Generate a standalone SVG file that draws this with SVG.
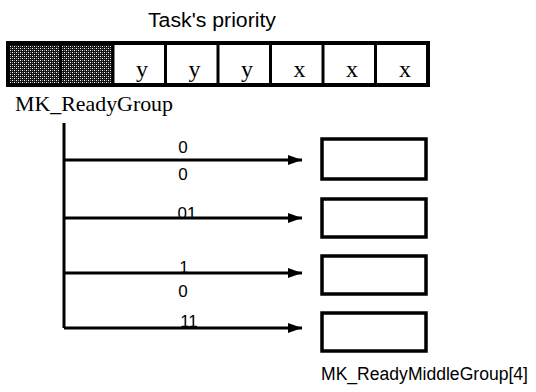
<svg xmlns="http://www.w3.org/2000/svg" width="536" height="392" viewBox="0 0 536 392">
<style>
.sans{font-family:"Liberation Sans",Arial,sans-serif;fill:#000}
.serif{font-family:"Liberation Serif","Times New Roman",serif;fill:#000}
.lbl{font-size:17px;text-anchor:middle}
.cell{font-size:24px;text-anchor:middle}
.box{fill:#fff;stroke:#000;stroke-width:3.5}
.conn{fill:none;stroke:#000;stroke-width:3}
</style>
<defs>
<pattern id="hatch" width="4" height="4" patternUnits="userSpaceOnUse">
<rect width="4" height="4" fill="#151515"/>
<rect x="0" y="0" width="1" height="1" fill="#fff"/>
<rect x="2" y="2" width="1" height="1" fill="#fff"/>
<rect x="2" y="0" width="1" height="1" fill="#888"/>
<rect x="0" y="2" width="1" height="1" fill="#888"/>
</pattern>
<marker id="arr" viewBox="0 0 14 10" refX="14" refY="5" markerWidth="14" markerHeight="10" markerUnits="userSpaceOnUse" orient="auto">
<path d="M0,0 L14,5 L0,10 Z" fill="#000"/>
</marker>
</defs>

<text class="sans" x="212" y="27" font-size="20" text-anchor="middle" textLength="128" lengthAdjust="spacingAndGlyphs">Task's priority</text>

<g id="priority">
<rect x="8" y="43" width="105" height="42" fill="url(#hatch)"/>
<rect x="8" y="43" width="420" height="42" fill="none" stroke="#000" stroke-width="4"/>
<g stroke="#000" stroke-width="3">
<line x1="60.5" y1="43" x2="60.5" y2="85"/>
<line x1="113" y1="43" x2="113" y2="85"/>
<line x1="165.5" y1="43" x2="165.5" y2="85"/>
<line x1="218" y1="43" x2="218" y2="85"/>
<line x1="270.5" y1="43" x2="270.5" y2="85"/>
<line x1="323" y1="43" x2="323" y2="85"/>
<line x1="375.5" y1="43" x2="375.5" y2="85"/>
</g>
<text class="serif cell" x="142" y="77">y</text>
<text class="serif cell" x="194.5" y="77">y</text>
<text class="serif cell" x="247" y="77">y</text>
<text class="serif cell" x="299.5" y="77">x</text>
<text class="serif cell" x="352" y="77">x</text>
<text class="serif cell" x="405" y="77">x</text>
</g>

<text class="serif" x="15" y="111" font-size="21" textLength="158" lengthAdjust="spacingAndGlyphs">MK_ReadyGroup</text>

<g id="connectors">
<path class="conn" d="M64,123 V328"/>
<path class="conn" d="M64,160 H302" marker-end="url(#arr)"/>
<path class="conn" d="M64,218 H302" marker-end="url(#arr)"/>
<path class="conn" d="M64,273 H302" marker-end="url(#arr)"/>
<path class="conn" d="M64,328 H302" marker-end="url(#arr)"/>
</g>

<g id="labels">
<text class="sans lbl" x="183" y="153">0</text>
<text class="sans lbl" x="183" y="180">0</text>
<text class="sans lbl" x="187" y="219">01</text>
<text class="sans lbl" x="184" y="273">1</text>
<text class="sans lbl" x="183" y="297">0</text>
<text class="sans lbl" x="189" y="327">11</text>
</g>

<g id="box0"><rect class="box" x="322" y="139" width="104" height="40"/></g>
<g id="box1"><rect class="box" x="322" y="199" width="104" height="38"/></g>
<g id="box2"><rect class="box" x="322" y="256" width="104" height="38"/></g>
<g id="box3"><rect class="box" x="322" y="313" width="104" height="38"/></g>

<text class="sans" x="321" y="380" font-size="18" textLength="207" lengthAdjust="spacingAndGlyphs">MK_ReadyMiddleGroup[4]</text>
</svg>
